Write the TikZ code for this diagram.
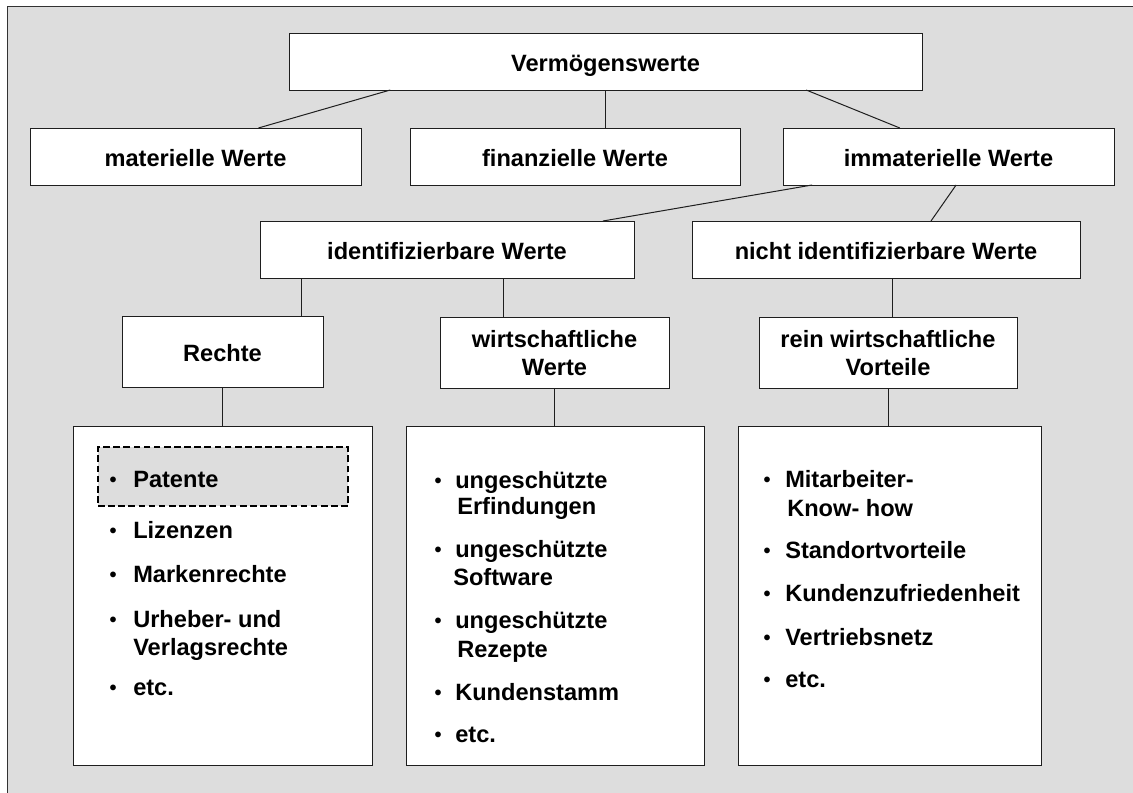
\documentclass[tikz,border=0pt]{standalone}
\usepackage{fontspec}
\setmainfont{Liberation Sans}
\usetikzlibrary{calc}
\definecolor{panel}{RGB}{221,221,221}
\definecolor{linec}{RGB}{30,30,30}
\definecolor{framec}{RGB}{50,50,50}
\begin{document}
\begin{tikzpicture}[x=0.75pt, y=-0.75pt,
  txt/.style={font=\fontsize{17.7}{20.5}\selectfont\bfseries},
  sz/.style n args={2}{minimum width={#1*0.75pt}, minimum height={#2*0.75pt}},
  hbox/.style={txt, draw=linec, fill=white, line width=0.75pt, inner sep=0pt,
    outer sep=0pt, align=center},
  onel/.style={text height=15pt, text depth=0pt},
  listbox/.style={draw=linec, fill=white, line width=0.75pt, inner sep=0pt, outer sep=0pt},
  entry/.style={txt, anchor=base west, inner sep=0pt},
  bulletmark/.style={font=\fontsize{15}{17}\selectfont\bfseries, anchor=base, inner sep=0pt},
  conn/.style={draw=linec, line width=0.75pt}]

% page and grey panel
\useasboundingbox (0,0) rectangle (1133,793);
\clip (0,0) rectangle (1133,793);
\fill[white] (0,0) rectangle (1133,793);
\draw[fill=panel, draw=framec, line width=0.9pt] (7.5,6.5) rectangle (1160,820);

% first level
\node[hbox, onel, sz={633}{57}] (verm) at (605.5,61.5) {Vermögenswerte};
\node[hbox, onel, sz={331}{57}] (mat) at (195.5,156.5) {materielle Werte};
\node[hbox, onel, sz={330}{57}] (fin) at (575,156.5) {finanzielle Werte};
\node[hbox, onel, sz={331}{57}] (imm) at (948.5,156.5) {immaterielle Werte};

% second level
\node[hbox, onel, sz={374}{57}] (ident) at (447,249.5) {identifizierbare Werte};
\node[hbox, onel, sz={388}{57}] (nicht) at (886,249.5) {nicht identifizierbare Werte};

% third level
\node[hbox, onel, sz={201}{71}] (recht) at (222.5,351.5) {Rechte};
\node[hbox, sz={229}{71}] (wirt) at (554.5,353) {wirtschaftliche\\Werte};
\node[hbox, sz={258}{71}] (rein) at (888,353) {rein wirtschaftliche\\Vorteile};

% list panels
\node[listbox, sz={299}{339}] (lista) at (222.5,595.5) {};
\node[listbox, sz={298}{339}] (listb) at (555,595.5) {};
\node[listbox, sz={303}{339}] (listc) at (889.5,595.5) {};

% highlighted entry
\node[draw=black, fill=panel, line width=1.5pt, dash pattern=on 5pt off 2.6pt,
  inner sep=0pt, sz={250}{59}] (patbox) at (223,476.5) {};

% connectors
\draw[conn] ($(verm.south west)!0.16!(verm.south east)$) -- ($(mat.north west)!0.69!(mat.north east)$);
\draw[conn] (verm.south) -- (verm.south |- fin.north);
\draw[conn] ($(verm.south west)!0.817!(verm.south east)$) -- ($(imm.north west)!0.353!(imm.north east)$);
\draw[conn] ($(imm.south west)!0.088!(imm.south east)$) -- ($(ident.north west)!0.917!(ident.north east)$);
\draw[conn] ($(imm.south west)!0.523!(imm.south east)$) -- ($(nicht.north west)!0.616!(nicht.north east)$);
\coordinate (ir) at ($(ident.south west)!0.11!(ident.south east)$);
\draw[conn] (ir) -- (ir |- recht.north);
\coordinate (iw) at ($(ident.south west)!0.65!(ident.south east)$);
\draw[conn] (iw) -- (iw |- wirt.north);
\coordinate (nr) at ($(nicht.south west)!0.518!(nicht.south east)$);
\draw[conn] (nr) -- (nr |- rein.north);
\draw[conn] (recht.south) -- (recht.south |- lista.north);
\draw[conn] (wirt.south) -- (wirt.south |- listb.north);
\draw[conn] (rein.south) -- (rein.south |- listc.north);

% entries: Rechte
\node[bulletmark] (ba1) at (113,486) {•};
\node[entry] (ta1) at (133,487) {Patente};
\node[bulletmark] (ba2) at (113,537) {•};
\node[entry] (ta2) at (133,538) {Lizenzen};
\node[bulletmark] (ba3) at (113,581) {•};
\node[entry] (ta3) at (133,582) {Markenrechte};
\node[bulletmark] (ba4) at (113,626) {•};
\node[entry] (ta4) at (133,627) {Urheber- und};
\node[entry] (ta4b) at (133,655) {Verlagsrechte};
\node[bulletmark] (ba5) at (113,694) {•};
\node[entry] (ta5) at (133,695) {etc.};

% entries: wirtschaftliche Werte
\node[bulletmark] (bb1) at (438,487) {•};
\node[entry] (tb1) at (455,488) {ungeschützte};
\node[entry] (tb1b) at (457,514) {Erfindungen};
\node[bulletmark] (bb2) at (438,556) {•};
\node[entry] (tb2) at (455,557) {ungeschützte};
\node[entry] (tb2b) at (453,585) {Software};
\node[bulletmark] (bb3) at (438,627) {•};
\node[entry] (tb3) at (455,628) {ungeschützte};
\node[entry] (tb3b) at (457,657) {Rezepte};
\node[bulletmark] (bb4) at (438,699) {•};
\node[entry] (tb4) at (455,700) {Kundenstamm};
\node[bulletmark] (bb5) at (438,741) {•};
\node[entry] (tb5) at (455,742) {etc.};

% entries: rein wirtschaftliche Vorteile
\node[bulletmark] (bc1) at (767,486) {•};
\node[entry] (tc1) at (785,487) {Mitarbeiter-};
\node[entry] (tc1b) at (787,516) {Know- how};
\node[bulletmark] (bc2) at (767,557) {•};
\node[entry] (tc2) at (785,558) {Standortvorteile};
\node[bulletmark] (bc3) at (767,600) {•};
\node[entry] (tc3) at (785,601) {Kundenzufriedenheit};
\node[bulletmark] (bc4) at (767,644) {•};
\node[entry] (tc4) at (785,645) {Vertriebsnetz};
\node[bulletmark] (bc5) at (767,686) {•};
\node[entry] (tc5) at (785,687) {etc.};
\end{tikzpicture}
\end{document}
